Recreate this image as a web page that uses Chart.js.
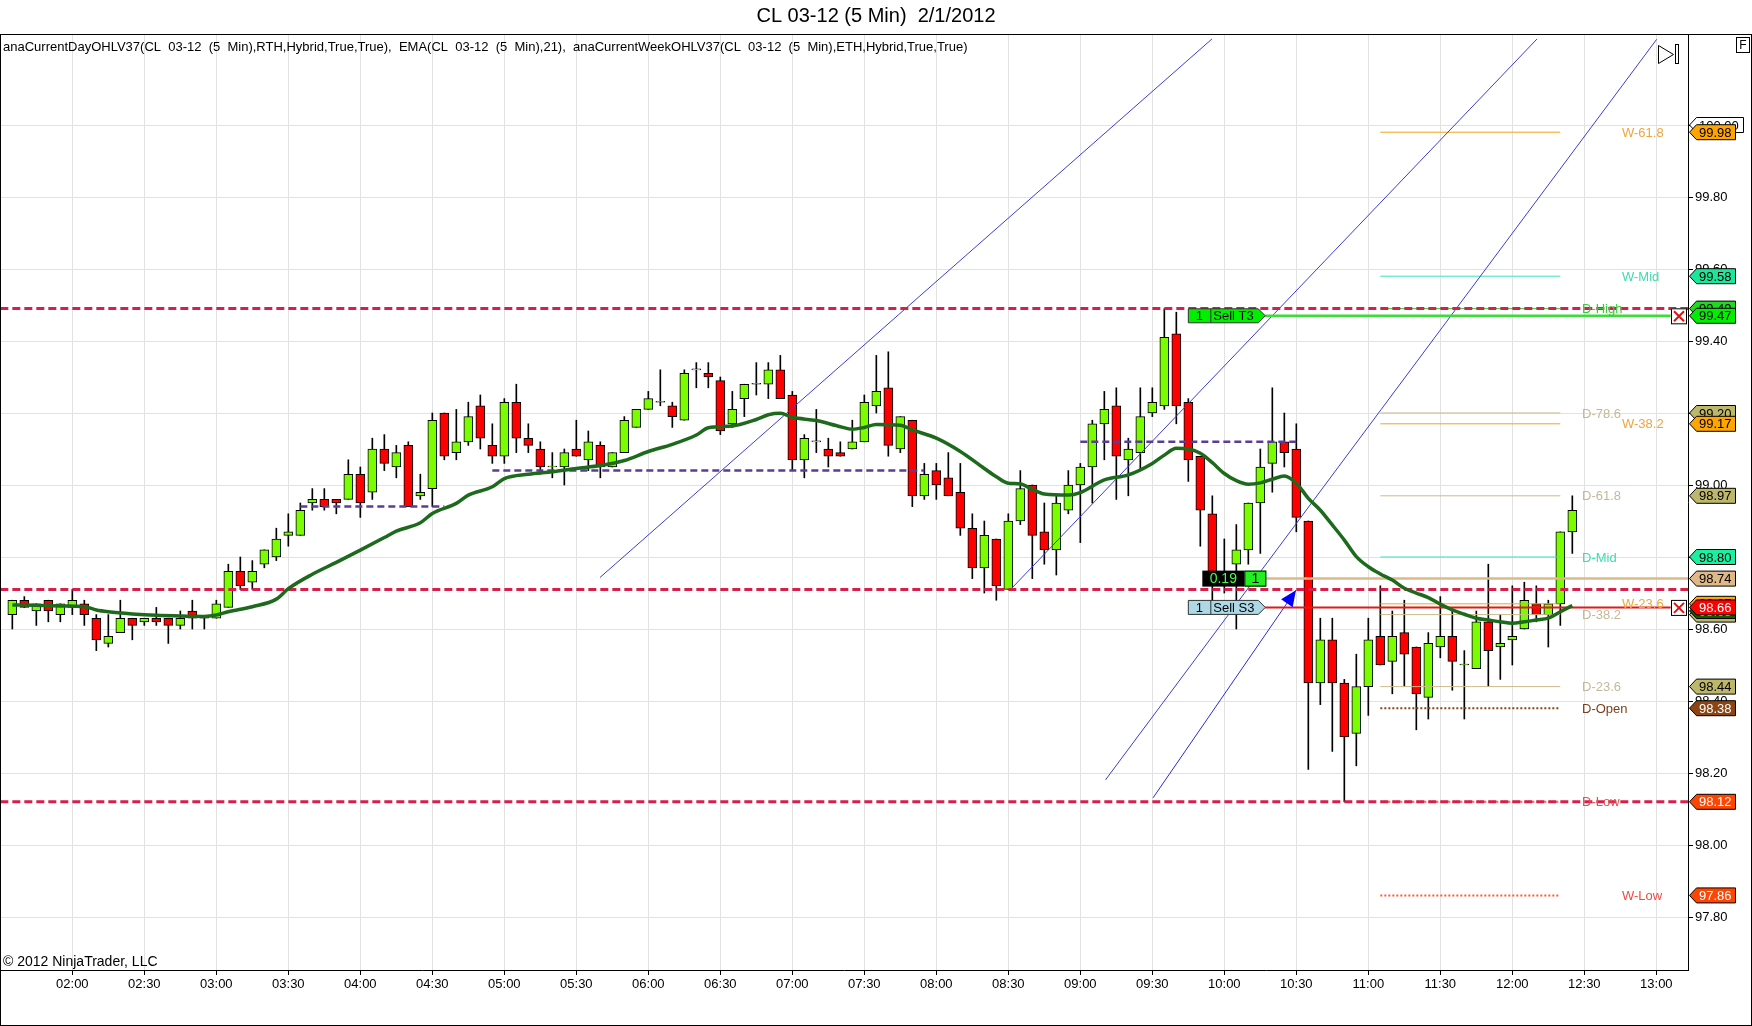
<!DOCTYPE html>
<html>
<head>
<meta charset="utf-8" />
<title>CL 03-12 (5 Min) 2/1/2012</title>
<style>
  body { margin: 0; background: #fff; }
  canvas { display: block; }
</style>
</head>
<body>
<canvas id="chart" width="1752" height="1026"></canvas>

<script src="https://cdn.jsdelivr.net/npm/chart.js@4.4.0/dist/chart.umd.min.js"></script>
<script>
// 5 min bars, bar 0 = 01:35, last bar = 12:25
var opens = [
  98.64, 98.68, 98.65, 98.68, 98.64, 98.66, 98.67, 98.63, 98.56, 98.59,
  98.63, 98.62, 98.63, 98.63, 98.61, 98.65, 98.63, 98.63, 98.66, 98.76,
  98.73, 98.78, 98.80, 98.86, 98.86, 98.95, 98.96, 98.96, 98.96, 99.03,
  98.98, 99.10, 99.05, 99.11, 98.97, 98.99, 99.20, 99.09, 99.12, 99.22,
  99.11, 99.08, 99.23, 99.13, 99.10, 99.05, 99.05, 99.10, 99.07, 99.11,
  99.05, 99.09, 99.16, 99.21, 99.23, 99.22, 99.18, 99.32, 99.31, 99.29,
  99.17, 99.24, 99.28, 99.28, 99.32, 99.25, 99.07, 99.12, 99.10, 99.09,
  99.10, 99.12, 99.22, 99.27, 99.10, 99.18, 98.97, 99.04, 99.02, 98.98,
  98.88, 98.77, 98.85, 98.71, 98.90, 99.00, 98.87, 98.82, 98.93, 99.00,
  99.05, 99.17, 99.22, 99.07, 99.09, 99.20, 99.22, 99.42, 99.23, 99.08,
  98.92, 98.74, 98.78, 98.82, 98.95, 99.06, 99.12, 99.10, 98.90, 98.45,
  98.57, 98.45, 98.31, 98.44, 98.58, 98.51, 98.59, 98.55, 98.41, 98.55,
  98.58, 98.50, 98.49, 98.62, 98.55, 98.57, 98.60, 98.67, 98.64, 98.67,
  98.87
];
var highs = [
  98.68, 98.69, 98.67, 98.68, 98.67, 98.71, 98.68, 98.64, 98.64, 98.68,
  98.63, 98.63, 98.66, 98.63, 98.65, 98.68, 98.63, 98.68, 98.78, 98.80,
  98.79, 98.82, 98.88, 98.92, 98.95, 98.99, 98.99, 98.96, 99.07, 99.05,
  99.13, 99.14, 99.11, 99.12, 99.03, 99.20, 99.20, 99.21, 99.23, 99.25,
  99.17, 99.24, 99.28, 99.17, 99.12, 99.09, 99.10, 99.18, 99.15, 99.12,
  99.09, 99.19, 99.21, 99.26, 99.32, 99.23, 99.32, 99.34, 99.34, 99.30,
  99.26, 99.28, 99.34, 99.34, 99.36, 99.26, 99.14, 99.21, 99.13, 99.12,
  99.18, 99.25, 99.36, 99.37, 99.19, 99.18, 99.06, 99.06, 99.09, 99.06,
  98.92, 98.90, 98.85, 98.92, 99.04, 99.00, 98.95, 98.97, 99.04, 99.06,
  99.18, 99.26, 99.27, 99.13, 99.27, 99.27, 99.49, 99.48, 99.24, 99.08,
  98.97, 98.85, 98.89, 98.95, 99.10, 99.27, 99.20, 99.17, 98.90, 98.63,
  98.63, 98.46, 98.53, 98.63, 98.72, 98.65, 98.68, 98.55, 98.59, 98.69,
  98.65, 98.54, 98.65, 98.78, 98.64, 98.72, 98.73, 98.72, 98.68, 98.87,
  98.97
];
var lows = [
  98.60, 98.66, 98.61, 98.62, 98.62, 98.64, 98.61, 98.54, 98.55, 98.59,
  98.57, 98.61, 98.61, 98.56, 98.60, 98.60, 98.60, 98.63, 98.66, 98.71,
  98.71, 98.77, 98.79, 98.83, 98.86, 98.93, 98.93, 98.92, 98.96, 98.91,
  98.96, 99.04, 99.02, 98.94, 98.96, 98.94, 99.07, 99.07, 99.11, 99.10,
  99.06, 99.06, 99.09, 99.09, 99.03, 99.02, 99.00, 99.08, 99.04, 99.02,
  99.05, 99.09, 99.16, 99.21, 99.22, 99.16, 99.18, 99.27, 99.27, 99.14,
  99.16, 99.19, 99.25, 99.24, 99.24, 99.04, 99.02, 99.09, 99.05, 99.08,
  99.10, 99.12, 99.20, 99.08, 99.09, 98.94, 98.96, 98.96, 98.97, 98.86,
  98.74, 98.70, 98.68, 98.71, 98.89, 98.74, 98.78, 98.75, 98.92, 98.84,
  98.95, 99.07, 98.96, 98.97, 99.04, 99.19, 99.21, 99.17, 99.01, 98.83,
  98.68, 98.70, 98.60, 98.78, 98.81, 98.98, 99.05, 98.87, 98.21, 98.39,
  98.26, 98.12, 98.22, 98.36, 98.50, 98.42, 98.44, 98.32, 98.35, 98.52,
  98.43, 98.35, 98.49, 98.44, 98.46, 98.50, 98.60, 98.62, 98.55, 98.61,
  98.81
];
var closes = [
  98.68, 98.66, 98.67, 98.65, 98.67, 98.68, 98.64, 98.57, 98.58, 98.63,
  98.61, 98.63, 98.62, 98.61, 98.63, 98.63, 98.63, 98.67, 98.76, 98.72,
  98.76, 98.82, 98.85, 98.87, 98.93, 98.96, 98.94, 98.95, 99.03, 98.95,
  99.10, 99.06, 99.09, 98.94, 98.98, 99.18, 99.08, 99.12, 99.19, 99.13,
  99.08, 99.23, 99.13, 99.11, 99.05, 99.05, 99.09, 99.08, 99.12, 99.05,
  99.09, 99.18, 99.21, 99.24, 99.23, 99.19, 99.31, 99.32, 99.30, 99.15,
  99.21, 99.28, 99.28, 99.32, 99.24, 99.07, 99.13, 99.12, 99.08, 99.08,
  99.12, 99.23, 99.26, 99.11, 99.19, 98.97, 99.03, 99.00, 98.97, 98.88,
  98.77, 98.86, 98.72, 98.90, 98.99, 98.86, 98.82, 98.95, 99.00, 99.05,
  99.17, 99.21, 99.08, 99.10, 99.19, 99.23, 99.41, 99.22, 99.07, 98.93,
  98.75, 98.76, 98.82, 98.95, 99.05, 99.12, 99.09, 98.91, 98.45, 98.57,
  98.45, 98.30, 98.44, 98.57, 98.50, 98.58, 98.53, 98.42, 98.56, 98.58,
  98.51, 98.50, 98.62, 98.54, 98.56, 98.58, 98.68, 98.64, 98.67, 98.87,
  98.93
];

// EMA(21) at these bars
var emaIdx = [0,2,4,6,7,8,10,12,14,16,17,18,20,22,23,25,27,29,31,32,34,35,37,38,40,41,43,45,47,49,
  51,53,55,57,58,60,62,63,64,65,67,69,70,71,72,74,75,77,79,81,82,83,84,85,86,88,89,91,93,95,
  96,97,98,99,100,101,102,103,104,105,106,107,108,109,110,111,112,113,114,115,
  116,117,118,119,120,121,122,123,124,125,126,127,128,129,130];
var emaVal = [98.667,98.666,98.664,98.662,98.653,98.648,98.642,98.638,98.636,98.635,
  98.639,98.648,98.662,98.683,98.712,98.752,98.785,98.819,98.854,98.872,
  98.895,98.921,98.949,98.972,98.995,99.018,99.030,99.037,99.046,99.054,
  99.068,99.093,99.113,99.139,99.159,99.164,99.182,99.195,99.199,99.188,
  99.179,99.162,99.155,99.160,99.168,99.166,99.153,99.130,99.093,99.046,
  99.023,99.005,99.003,98.988,98.975,98.972,98.979,99.014,99.028,99.060,
  99.083,99.102,99.100,99.088,99.062,99.032,99.012,99.002,99.006,99.016,
  99.025,99.005,98.963,98.930,98.889,98.847,98.801,98.773,98.753,98.736,
  98.713,98.700,98.687,98.669,98.653,98.641,98.630,98.625,98.620,98.616,
  98.620,98.625,98.630,98.648,98.665];

// axes
var xTickIdx = [5,11,17,23,29,35,41,47,53,59,65,71,77,83,89,95,101,107,113,119,125,131,137];
var xTickLabels = ['02:00','02:30','03:00','03:30','04:00','04:30','05:00','05:30','06:00','06:30',
  '07:00','07:30','08:00','08:30','09:00','09:30','10:00','10:30','11:00','11:30','12:00','12:30','13:00'];
var yTickValues = [97.8, 98.0, 98.2, 98.4, 98.6, 98.8, 99.0, 99.2, 99.4, 99.6, 99.8, 100.0];
var yTickLabels = ['97.80','98.00','98.20','98.40','98.60','98.80','99.00','99.20','99.40','99.60','99.80','100.00'];

// daily / weekly levels
var dayHigh = 99.49;
var dayLow = 98.12;
var priorLine = 98.71;
var dayLevelNames = ['D-78.6','D-61.8','D-Mid','D-38.2','D-23.6','D-Open','D-Low'];
var dayLevelPrices = [99.20, 98.97, 98.80, 98.64, 98.44, 98.38, 98.12];
var weekLevelNames = ['W-61.8','W-Mid','W-38.2','W-23.6','W-Low'];
var weekLevelPrices = [99.98, 99.58, 99.17, 98.67, 97.86];
var levelFrom = 114, levelTo = 129;

// swing lines (purple)
var swingFrom = [24, 40, 89];
var swingTo = [36, 76, 107];
var swingPrice = [98.94, 99.04, 99.12];

// drawn trend lines (bar index, price)
var trendX1 = [48.97, 83.28, 91.1, 95.06];
var trendY1 = [98.743, 98.713, 98.181, 98.131];
var trendX2 = [99.97, 127.06, 137.03, 106.97];
var trendY2 = [100.239, 100.239, 100.238, 98.708];

// orders / position
var orderIdx = 98;
var targetPrice = 99.47;
var stopPrice = 98.66;
var entryPrice = 98.74;
var openPnl = '0.19';

// price markers on the axis
var tagPrices = [100.00, 99.98, 99.58, 99.49, 99.47, 99.20, 99.17, 98.97, 98.80, 98.74, 98.67, 98.64, 98.65, 98.66, 98.44, 98.38, 98.12, 97.86];
var tagTexts = ['100.00','99.98','99.58','99.49','99.47','99.20','99.17','98.97','98.80','98.74','98.67','98.64','98.65','98.66','98.44','98.38','98.12','97.86'];

var FONT = '"Liberation Sans", Arial, sans-serif';
var UP = '#7cfc00', DOWN = '#ff0000';

var levelStyle = {
  'D-78.6': { line: '#cdb98c', text: '#c3b899', dash: [] },
  'D-61.8': { line: '#cdb98c', text: '#c3b899', dash: [] },
  'D-38.2': { line: '#cdb98c', text: '#c3b899', dash: [] },
  'D-23.6': { line: '#cdb98c', text: '#c3b899', dash: [] },
  'D-Mid':  { line: '#3ee0bc', text: '#3fdcae', dash: [] },
  'D-Open': { line: '#8b4513', text: '#7b3f1c', dash: [2, 2] },
  'D-Low':  { line: '#ff5a3c', text: '#e0504c', dash: [2, 2] },
  'W-61.8': { line: '#f2a41c', text: '#f2a43a', dash: [] },
  'W-Mid':  { line: '#3ee0bc', text: '#3fdcae', dash: [] },
  'W-38.2': { line: '#f2a41c', text: '#f2a43a', dash: [] },
  'W-23.6': { line: '#f2a41c', text: '#f2a43a', dash: [] },
  'W-Low':  { line: '#ff5a3c', text: '#f04a40', dash: [2, 2] }
};
var tagStyle = {
  '100.00': ['#ffffff', '#000'], '99.98': ['#ffa500', '#000'], '99.58': ['#19e89a', '#000'],
  '99.49': ['#22d822', '#000'], '99.47': ['#00ee00', '#000'], '99.20': ['#bdb76b', '#000'],
  '99.17': ['#ffa500', '#000'], '98.97': ['#bdb76b', '#000'], '98.80': ['#19f0a0', '#000'],
  '98.74': ['#deb887', '#000'], '98.67': ['#ffa500', '#000'], '98.64': ['#bdb76b', '#000'],
  '98.65': ['#006400', '#fff'], '98.66': ['#ff0000', '#fff'], '98.44': ['#bdb76b', '#000'],
  '98.38': ['#8b4513', '#fff'], '98.12': ['#ff4500', '#fff'], '97.86': ['#ff4500', '#fff']
};

function hline(x1, x2, y, color, width, dash, order) {
  return {
    type: 'line', data: [{ x: x1, y: y }, { x: x2, y: y }],
    borderColor: color, borderWidth: width, borderDash: dash || [],
    pointRadius: 0, tension: 0, order: order
  };
}

var datasets = [];

// candles: wicks then bodies
datasets.push({
  type: 'bar', label: 'wick', order: 6, grouped: false,
  data: opens.map(function (o, i) { return { x: i, y: [lows[i], highs[i]] }; }),
  backgroundColor: '#000', borderWidth: 0, barThickness: 1
});
datasets.push({
  type: 'bar', label: 'body', order: 5, grouped: false,
  data: opens.map(function (o, i) { return { x: i, y: [o, closes[i]] }; }),
  backgroundColor: opens.map(function (o, i) { return closes[i] >= o ? UP : DOWN; }),
  borderColor: '#000', borderWidth: 1, borderSkipped: false, barThickness: 9, minBarLength: 1
});

// level segments
dayLevelNames.forEach(function (n, k) {
  var s = levelStyle[n];
  datasets.push(hline(levelFrom, levelTo, dayLevelPrices[k], s.line, s.dash.length ? 2 : 1, s.dash, 4));
});
weekLevelNames.forEach(function (n, k) {
  var s = levelStyle[n];
  datasets.push(hline(levelFrom, levelTo, weekLevelPrices[k], s.line, s.dash.length ? 2 : 1, s.dash, 4));
});
datasets.push(hline(levelFrom, levelTo, dayHigh, '#33cc33', 1, [], 4));

// full width dashed lines
[dayHigh, priorLine, dayLow].forEach(function (p) {
  datasets.push(hline(-2, 141, p, '#d61f4c', 3, [8, 4], 3));
});

// swing lines
swingPrice.forEach(function (p, k) {
  datasets.push(hline(swingFrom[k], swingTo[k], p, '#5c3d96', 2.5, [7, 4], 3));
});

// trend lines
trendX1.forEach(function (x, k) {
  datasets.push({
    type: 'line', data: [{ x: x, y: trendY1[k] }, { x: trendX2[k], y: trendY2[k] }],
    borderColor: k === 3 ? '#2a2ae0' : '#3c3cd6', borderWidth: 1, pointRadius: 0, tension: 0, order: 3
  });
});

// order lines
datasets.push(hline(orderIdx + 6.4, 138.2, targetPrice, '#3ddc3d', 2.5, [], 2));
datasets.push(hline(orderIdx + 6.4, 138.2, stopPrice, '#e01a1a', 2, [], 2));
datasets.push(hline(orderIdx + 6.4, 141, entryPrice, '#deb887', 2.5, [], 2));

// EMA
datasets.push({
  type: 'line', label: 'EMA', order: 1,
  data: emaIdx.map(function (x, k) { return { x: x, y: emaVal[k] }; }),
  borderColor: '#1d6a1d', borderWidth: 3.5, pointRadius: 0,
  cubicInterpolationMode: 'monotone'
});

function tagShape(ctx, x, y, w, h, fill, stroke) {
  ctx.beginPath();
  ctx.moveTo(x, y);
  ctx.lineTo(x + 7, y - h / 2);
  ctx.lineTo(x + w, y - h / 2);
  ctx.lineTo(x + w, y + h / 2);
  ctx.lineTo(x + 7, y + h / 2);
  ctx.closePath();
  ctx.fillStyle = fill;
  ctx.fill();
  ctx.strokeStyle = stroke;
  ctx.lineWidth = 1;
  ctx.stroke();
}

function orderBox(ctx, x, y, fill, qty, text) {
  var h = 14, w = 70;
  ctx.beginPath();
  ctx.moveTo(x, y - h / 2);
  ctx.lineTo(x + w, y - h / 2);
  ctx.lineTo(x + w + 7, y);
  ctx.lineTo(x + w, y + h / 2);
  ctx.lineTo(x, y + h / 2);
  ctx.closePath();
  ctx.fillStyle = fill;
  ctx.fill();
  ctx.strokeStyle = '#333';
  ctx.lineWidth = 1;
  ctx.stroke();
  ctx.beginPath();
  ctx.moveTo(x + 22.5, y - h / 2);
  ctx.lineTo(x + 22.5, y + h / 2);
  ctx.stroke();
  ctx.fillStyle = '#000';
  ctx.font = '13px ' + FONT;
  ctx.textBaseline = 'middle';
  ctx.textAlign = 'center';
  ctx.fillText(qty, x + 11, y + 1);
  ctx.textAlign = 'left';
  ctx.fillText(text, x + 25, y + 1);
}

function xBox(ctx, x, y) {
  ctx.fillStyle = '#fff';
  ctx.fillRect(x, y - 7.5, 15, 15);
  ctx.strokeStyle = '#000';
  ctx.lineWidth = 1;
  ctx.strokeRect(x + 0.5, y - 7, 15, 15);
  ctx.strokeStyle = '#e01010';
  ctx.lineWidth = 2;
  ctx.beginPath();
  ctx.moveTo(x + 3, y - 4.5); ctx.lineTo(x + 13, y + 5.5);
  ctx.moveTo(x + 13, y - 4.5); ctx.lineTo(x + 3, y + 5.5);
  ctx.stroke();
}

var decor = {
  id: 'decor',
  afterDraw: function (chart) {
    var ctx = chart.ctx, xs = chart.scales.x, ys = chart.scales.y, a = chart.chartArea;
    ctx.save();

    // indicator caption and copyright
    ctx.fillStyle = '#000';
    ctx.font = '13px ' + FONT;
    ctx.textAlign = 'left';
    ctx.textBaseline = 'middle';
    ctx.fillText('anaCurrentDayOHLV37(CL  03-12  (5  Min),RTH,Hybrid,True,True),  EMA(CL  03-12  (5  Min),21),  anaCurrentWeekOHLV37(CL  03-12  (5  Min),ETH,Hybrid,True,True)', 3, 47, 968);
    ctx.font = '14px ' + FONT;
    ctx.fillText('\u00a9 2012 NinjaTrader, LLC', 3, 962);

    // level labels
    ctx.font = '13px ' + FONT;
    dayLevelNames.forEach(function (n, k) {
      ctx.fillStyle = levelStyle[n].text;
      ctx.fillText(n, a.right - 106, ys.getPixelForValue(dayLevelPrices[k]) + 1);
    });
    weekLevelNames.forEach(function (n, k) {
      ctx.fillStyle = levelStyle[n].text;
      ctx.fillText(n, a.right - 66, ys.getPixelForValue(weekLevelPrices[k]) + 1);
    });
    ctx.fillStyle = '#3cc83c';
    ctx.fillText('D-High', a.right - 106, ys.getPixelForValue(dayHigh) + 1);

    // arrow head on the last trend line
    var ax1 = xs.getPixelForValue(trendX1[3]), ay1 = ys.getPixelForValue(trendY1[3]);
    var ax2 = xs.getPixelForValue(trendX2[3]), ay2 = ys.getPixelForValue(trendY2[3]);
    var ang = Math.atan2(ay2 - ay1, ax2 - ax1);
    ctx.fillStyle = '#0000ff';
    ctx.beginPath();
    ctx.moveTo(ax2, ay2);
    ctx.lineTo(ax2 - 16 * Math.cos(ang) + 7 * Math.sin(ang), ay2 - 16 * Math.sin(ang) - 7 * Math.cos(ang));
    ctx.lineTo(ax2 - 16 * Math.cos(ang) - 7 * Math.sin(ang), ay2 - 16 * Math.sin(ang) + 7 * Math.cos(ang));
    ctx.closePath();
    ctx.fill();

    // order boxes
    var bx = xs.getPixelForValue(orderIdx);
    orderBox(ctx, bx, ys.getPixelForValue(targetPrice), '#00ee00', '1', 'Sell T3');
    orderBox(ctx, bx, ys.getPixelForValue(stopPrice), '#add8e6', '1', 'Sell S3');

    // position box
    var py = ys.getPixelForValue(entryPrice);
    ctx.fillStyle = '#000';
    ctx.fillRect(bx + 14, py - 8, 42, 16);
    ctx.fillStyle = '#22ee22';
    ctx.fillRect(bx + 56, py - 8, 22, 16);
    ctx.strokeStyle = '#000';
    ctx.lineWidth = 1;
    ctx.strokeRect(bx + 56.5, py - 7.5, 21, 15);
    ctx.font = '14px ' + FONT;
    ctx.textAlign = 'center';
    ctx.fillStyle = '#44ff44';
    ctx.fillText(openPnl, bx + 35, py + 1);
    ctx.fillStyle = '#000';
    ctx.fillText('1', bx + 67, py + 1);

    // close boxes
    xBox(ctx, a.right - 17, ys.getPixelForValue(targetPrice));
    xBox(ctx, a.right - 17, ys.getPixelForValue(stopPrice));

    // price tags on the axis
    ctx.font = '13px ' + FONT;
    ctx.textAlign = 'left';
    tagPrices.forEach(function (p, k) {
      var t = tagTexts[k], st = tagStyle[t], y = ys.getPixelForValue(p);
      var w = t.length > 5 ? 54 : 46;
      tagShape(ctx, a.right + 1.5, y, w, 15, st[0], '#000');
      ctx.fillStyle = st[1];
      ctx.fillText(t, a.right + 11, y + 1);
    });

    // scroll glyph and F box
    ctx.strokeStyle = '#000';
    ctx.lineWidth = 1;
    ctx.beginPath();
    ctx.moveTo(1658.5, 45.5); ctx.lineTo(1673.5, 54.5); ctx.lineTo(1658.5, 63.5); ctx.closePath();
    ctx.stroke();
    ctx.strokeRect(1675.5, 44.5, 3, 19);
    ctx.strokeRect(1736.5, 37.5, 13, 15);
    ctx.fillStyle = '#000';
    ctx.font = '12px ' + FONT;
    ctx.textAlign = 'center';
    ctx.fillText('F', 1743, 46);

    // outer frame
    ctx.strokeStyle = '#000';
    ctx.lineWidth = 1;
    ctx.strokeRect(0.5, 34.5, 1751, 991);
    ctx.restore();
  }
};

new Chart(document.getElementById('chart'), {
  type: 'bar',
  data: { datasets: datasets },
  plugins: [decor],
  options: {
    responsive: false,
    animation: false,
    devicePixelRatio: 1,
    layout: { padding: 0 },
    plugins: {
      legend: { display: false },
      tooltip: { enabled: false },
      title: {
        display: true,
        text: 'CL 03-12 (5 Min)  2/1/2012',
        color: '#000',
        font: { family: FONT, size: 20, weight: 'normal' },
        padding: { top: 4, bottom: 6 }
      }
    },
    scales: {
      x: {
        type: 'linear',
        min: -1.0275,
        max: 139.64,
        offset: false,
        afterBuildTicks: function (scale) {
          scale.ticks = xTickIdx.map(function (v) { return { value: v }; });
        },
        afterFit: function (scale) { scale.height = 56; },
        grid: { color: '#e2e2e2', tickColor: '#000', tickLength: 5, offset: false },
        border: { display: true, color: '#000' },
        ticks: {
          autoSkip: false, maxRotation: 0, padding: 2, color: '#000',
          font: { family: FONT, size: 13 },
          callback: function (v, i) { return xTickLabels[i]; }
        }
      },
      y: {
        type: 'linear',
        position: 'right',
        min: 97.6528,
        max: 100.2528,
        afterBuildTicks: function (scale) {
          scale.ticks = yTickValues.map(function (v) { return { value: v }; });
        },
        afterFit: function (scale) { scale.width = 64; },
        grid: { color: '#e2e2e2', tickColor: '#000', tickLength: 5 },
        border: { display: true, color: '#000' },
        ticks: {
          padding: 2, color: '#000',
          font: { family: FONT, size: 13 },
          callback: function (v, i) { return yTickLabels[i]; }
        }
      }
    }
  }
});
</script>
</body>
</html>
